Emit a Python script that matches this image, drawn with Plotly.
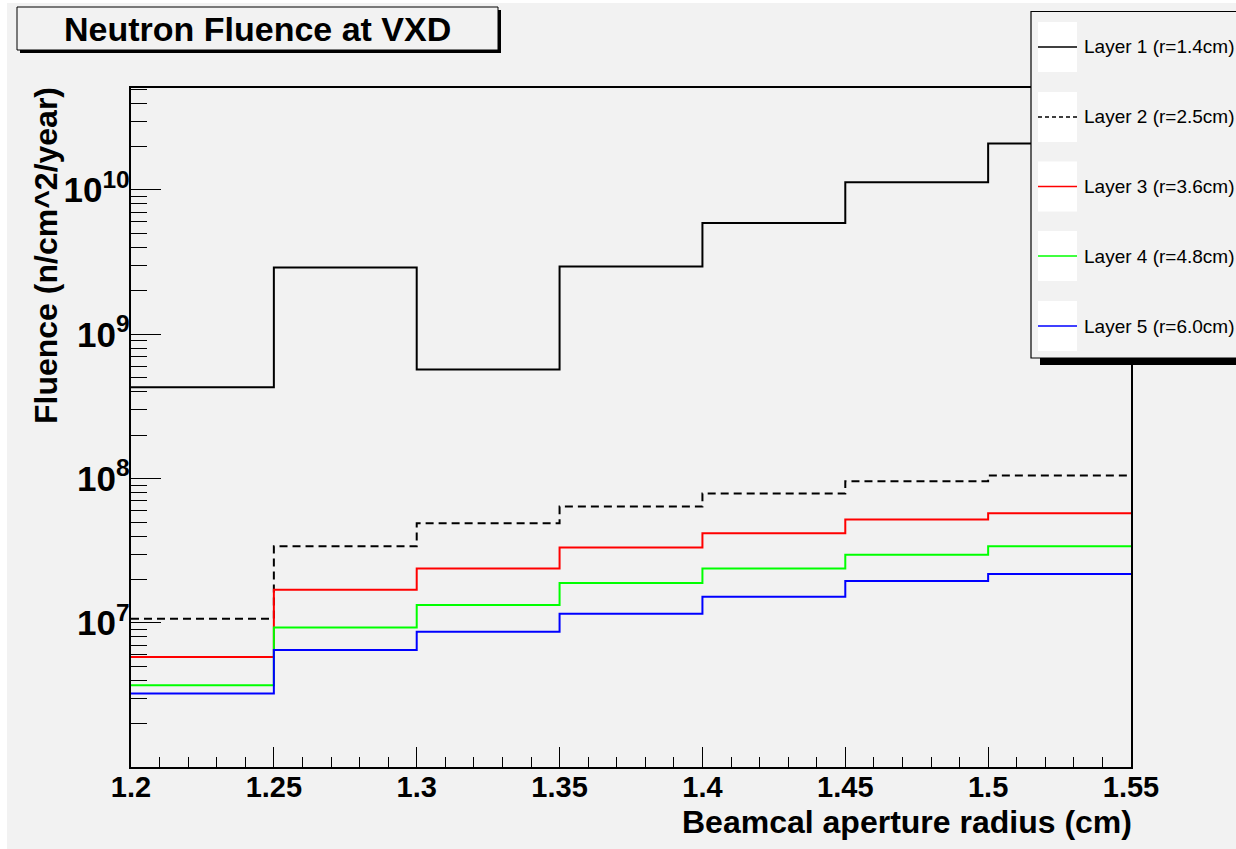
import plotly.graph_objects as go

# ---------------- data ----------------
bin_edges = [1.20, 1.25, 1.30, 1.35, 1.40, 1.45, 1.50, 1.55]
layer1 = [4.3e8, 2.9e9, 5.7e8, 2.95e9, 5.9e9, 1.13e10, 2.1e10]
layer2 = [1.07e7, 3.4e7, 4.9e7, 6.4e7, 7.9e7, 9.6e7, 1.05e8]
layer3 = [5.8e6, 1.7e7, 2.38e7, 3.33e7, 4.18e7, 5.22e7, 5.75e7]
layer4 = [3.7e6, 9.3e6, 1.33e7, 1.89e7, 2.38e7, 2.97e7, 3.4e7]
layer5 = [3.24e6, 6.5e6, 8.7e6, 1.16e7, 1.52e7, 1.95e7, 2.18e7]
series_names = ["Layer 1 (r=1.4cm)", "Layer 2 (r=2.5cm)", "Layer 3 (r=3.6cm)",
                "Layer 4 (r=4.8cm)", "Layer 5 (r=6.0cm)"]
title_text = "Neutron Fluence at VXD"
x_title = "Beamcal aperture radius (cm)"
y_title = "Fluence (n/cm^2/year)"

# ---------------- style ----------------
series = [layer1, layer2, layer3, layer4, layer5]
colors = ["#000000", "#000000", "#ff0000", "#00ff00", "#0000ff"]
dashes = ["solid", "8px,5px", "solid", "solid", "solid"]
BG = "#f2f2f2"
FONT = "Liberation Sans"

W, H = 1236, 849
ML, MR, MT, MB = 131, 105, 88, 82
PW, PH = W - ML - MR, H - MT - MB


def px(x):
    return (x - ML) / PW


def py(y):
    return (H - MB - y) / PH


fig = go.Figure()
for vals, col, dsh in zip(series, colors, dashes):
    fig.add_trace(go.Scatter(
        x=bin_edges, y=vals + [vals[-1]], mode="lines",
        line=dict(shape="hv", color=col, width=2, dash=dsh),
        showlegend=False, hoverinfo="skip"))

shapes = []
annotations = []

# page background (thin white strip at left/top)
shapes.append(dict(type="rect", xref="paper", yref="paper", layer="below",
                   x0=px(7), x1=px(W + 5), y0=py(3), y1=py(H + 5),
                   fillcolor=BG, line=dict(width=0)))

# title box with shadow
shapes.append(dict(type="rect", xref="paper", yref="paper",
                   x0=px(20), x1=px(501), y0=py(10), y1=py(53),
                   fillcolor="#000000", line=dict(width=0)))
shapes.append(dict(type="rect", xref="paper", yref="paper",
                   x0=px(17), x1=px(498), y0=py(7), y1=py(50),
                   fillcolor=BG, line=dict(color="#000000", width=1)))
annotations.append(dict(text=title_text, xref="paper", yref="paper",
                        x=px(257.5), y=py(29), xanchor="center", yanchor="middle",
                        showarrow=False,
                        font=dict(family=FONT, size=34, weight="bold", color="#000000")))

# legend box with shadow
shapes.append(dict(type="rect", xref="paper", yref="paper",
                   x0=px(1040), x1=px(W + 20), y0=py(20), y1=py(365),
                   fillcolor="#000000", line=dict(width=0)))
shapes.append(dict(type="rect", xref="paper", yref="paper",
                   x0=px(1031), x1=px(W + 20), y0=py(11.5), y1=py(358),
                   fillcolor=BG, line=dict(color="#000000", width=1.2)))
entry_centers = [47, 117, 186.5, 256, 326]
for name, col, dsh, cy in zip(series_names, colors, dashes, entry_centers):
    shapes.append(dict(type="rect", xref="paper", yref="paper",
                       x0=px(1038), x1=px(1077), y0=py(cy - 25), y1=py(cy + 25),
                       fillcolor="#ffffff", line=dict(width=0)))
    shapes.append(dict(type="line", xref="paper", yref="paper",
                       x0=px(1038), x1=px(1077), y0=py(cy), y1=py(cy),
                       line=dict(color=col, width=1.3, dash="4px,3px" if dsh != "solid" else "solid")))
    annotations.append(dict(text=name, xref="paper", yref="paper",
                            x=px(1082), y=py(cy), xanchor="left", yanchor="middle",
                            showarrow=False,
                            font=dict(family=FONT, size=19, color="#000000")))

# axis titles
annotations.append(dict(text=x_title, xref="paper", yref="paper",
                        x=px(1134), y=py(822), xanchor="right", yanchor="middle",
                        showarrow=False,
                        font=dict(family=FONT, size=32, weight="bold", color="#000000")))
annotations.append(dict(text=y_title, xref="paper", yref="paper",
                        x=px(46), y=py(256), xanchor="center", yanchor="middle",
                        textangle=-90, showarrow=False,
                        font=dict(family=FONT, size=32, weight="bold", color="#000000")))

fig.update_layout(
    width=W, height=H,
    margin=dict(l=ML, r=MR, t=MT, b=MB, pad=0),
    paper_bgcolor="#ffffff", plot_bgcolor=BG,
    shapes=shapes, annotations=annotations,
    xaxis=dict(range=[1.2, 1.55], tick0=1.2, dtick=0.05,
               ticks="inside", ticklen=20, tickwidth=1.2, tickcolor="#000000",
               minor=dict(dtick=0.01, ticks="inside", ticklen=10, tickwidth=1.2,
                          tickcolor="#000000", showgrid=False),
               showline=True, linecolor="#000000", linewidth=1.5, mirror=True,
               showgrid=False, zeroline=False, ticklabelstandoff=-7,
               tickfont=dict(family=FONT, size=29, weight="bold", color="#000000")),
    yaxis=dict(type="log", range=[6.002, 10.7065], dtick=1,
               exponentformat="power", showexponent="all",
               ticks="inside", ticklen=30, tickwidth=1.2, tickcolor="#000000",
               minor=dict(dtick="D1", ticks="inside", ticklen=16, tickwidth=1.2,
                          tickcolor="#000000", showgrid=False),
               showline=True, linecolor="#000000", linewidth=1.5, mirror=True,
               showgrid=False, zeroline=False, ticklabelstandoff=-6,
               tickfont=dict(family=FONT, size=28, weight="bold", color="#000000")),
)

fig.write_html("out.html")
